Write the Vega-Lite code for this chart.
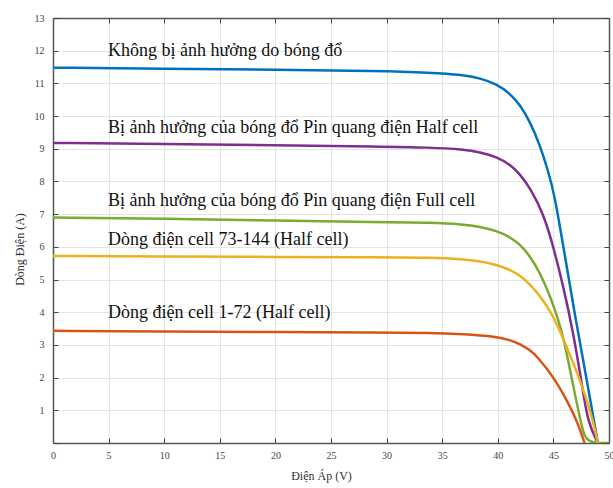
{
  "$schema": "https://vega.github.io/schema/vega-lite/v6.json",
  "width": 556,
  "height": 425,
  "autosize": {"type": "none"},
  "padding": {"left": 53, "top": 18, "right": 4, "bottom": 45},
  "background": "white",
  "config": {"view": {"stroke": null}, "font": "Liberation Serif"},
  "datasets": {
    "curves": [
      {"series": "blue", "V": 0, "I": 11.48}, {"series": "blue", "V": 10, "I": 11.45}, {"series": "blue", "V": 20, "I": 11.42}, {"series": "blue", "V": 29.4, "I": 11.38}, {"series": "blue", "V": 33.9, "I": 11.33}, {"series": "blue", "V": 36.9, "I": 11.26}, {"series": "blue", "V": 38.4, "I": 11.16}, {"series": "blue", "V": 39.9, "I": 10.98}, {"series": "blue", "V": 41.1, "I": 10.69}, {"series": "blue", "V": 42.0, "I": 10.34}, {"series": "blue", "V": 42.9, "I": 9.83}, {"series": "blue", "V": 43.8, "I": 9.1}, {"series": "blue", "V": 44.5, "I": 8.35}, {"series": "blue", "V": 45.1, "I": 7.6}, {"series": "blue", "V": 45.9, "I": 6.0}, {"series": "blue", "V": 46.9, "I": 3.97}, {"series": "blue", "V": 48.0, "I": 1.93}, {"series": "blue", "V": 49.0, "I": 0},
      {"series": "purple", "V": 0, "I": 9.18}, {"series": "purple", "V": 10, "I": 9.15}, {"series": "purple", "V": 20, "I": 9.11}, {"series": "purple", "V": 29.4, "I": 9.07}, {"series": "purple", "V": 33.9, "I": 9.04}, {"series": "purple", "V": 36.9, "I": 8.98}, {"series": "purple", "V": 38.4, "I": 8.9}, {"series": "purple", "V": 39.9, "I": 8.75}, {"series": "purple", "V": 41.1, "I": 8.52}, {"series": "purple", "V": 42.0, "I": 8.22}, {"series": "purple", "V": 42.9, "I": 7.8}, {"series": "purple", "V": 44.1, "I": 7.02}, {"series": "purple", "V": 45.0, "I": 6.0}, {"series": "purple", "V": 45.9, "I": 4.78}, {"series": "purple", "V": 46.8, "I": 3.35}, {"series": "purple", "V": 47.5, "I": 1.93}, {"series": "purple", "V": 48.1, "I": 0.6}, {"series": "purple", "V": 49.0, "I": 0},
      {"series": "green", "V": 0, "I": 6.9}, {"series": "green", "V": 10, "I": 6.86}, {"series": "green", "V": 20, "I": 6.8}, {"series": "green", "V": 29.4, "I": 6.76}, {"series": "green", "V": 33.9, "I": 6.74}, {"series": "green", "V": 36.9, "I": 6.69}, {"series": "green", "V": 38.4, "I": 6.62}, {"series": "green", "V": 39.9, "I": 6.49}, {"series": "green", "V": 41.1, "I": 6.3}, {"series": "green", "V": 42.0, "I": 6.07}, {"series": "green", "V": 42.9, "I": 5.72}, {"series": "green", "V": 43.8, "I": 5.2}, {"series": "green", "V": 44.7, "I": 4.5}, {"series": "green", "V": 45.4, "I": 3.8}, {"series": "green", "V": 45.9, "I": 3.25}, {"series": "green", "V": 46.8, "I": 1.72}, {"series": "green", "V": 47.6, "I": 0.4}, {"series": "green", "V": 48.0, "I": 0}, {"series": "green", "V": 50, "I": 0},
      {"series": "yellow", "V": 0, "I": 5.72}, {"series": "yellow", "V": 10, "I": 5.71}, {"series": "yellow", "V": 20, "I": 5.69}, {"series": "yellow", "V": 29.4, "I": 5.68}, {"series": "yellow", "V": 33.9, "I": 5.67}, {"series": "yellow", "V": 36.9, "I": 5.62}, {"series": "yellow", "V": 38.4, "I": 5.56}, {"series": "yellow", "V": 39.9, "I": 5.45}, {"series": "yellow", "V": 41.1, "I": 5.3}, {"series": "yellow", "V": 42.0, "I": 5.12}, {"series": "yellow", "V": 42.9, "I": 4.85}, {"series": "yellow", "V": 43.8, "I": 4.5}, {"series": "yellow", "V": 44.7, "I": 4.04}, {"series": "yellow", "V": 45.4, "I": 3.58}, {"series": "yellow", "V": 46.2, "I": 2.94}, {"series": "yellow", "V": 47.4, "I": 1.93}, {"series": "yellow", "V": 48.4, "I": 0.91}, {"series": "yellow", "V": 49.0, "I": 0},
      {"series": "red", "V": 0, "I": 3.43}, {"series": "red", "V": 10, "I": 3.41}, {"series": "red", "V": 20, "I": 3.39}, {"series": "red", "V": 29.4, "I": 3.38}, {"series": "red", "V": 33.9, "I": 3.37}, {"series": "red", "V": 36.9, "I": 3.33}, {"series": "red", "V": 39.9, "I": 3.25}, {"series": "red", "V": 41.1, "I": 3.15}, {"series": "red", "V": 42.0, "I": 3.03}, {"series": "red", "V": 42.9, "I": 2.84}, {"series": "red", "V": 43.5, "I": 2.66}, {"series": "red", "V": 45.0, "I": 2.03}, {"series": "red", "V": 46.2, "I": 1.31}, {"series": "red", "V": 47.1, "I": 0.7}, {"series": "red", "V": 47.8, "I": 0}
    ],
    "labels": [
      {"label": "Không bị ảnh hưởng do bóng đổ", "V": 4.95, "I": 12.0},
      {"label": "Bị ảnh hưởng của bóng đổ Pin quang điện Half cell", "V": 4.95, "I": 9.63},
      {"label": "Bị ảnh hưởng của bóng đổ Pin quang điện Full cell", "V": 4.95, "I": 7.4},
      {"label": "Dòng điện cell 73-144 (Half cell)", "V": 4.95, "I": 6.2},
      {"label": "Dòng điện cell 1-72 (Half cell)", "V": 4.95, "I": 3.98}
    ]
  },
  "layer": [
    {
      "data": {"name": "curves"},
      "mark": {"type": "line", "strokeWidth": 2.5, "interpolate": "basis", "clip": true},
      "encoding": {
        "x": {
          "field": "V", "type": "quantitative",
          "scale": {"domain": [0, 50], "nice": false, "zero": false},
          "axis": {
            "orient": "bottom", "values": [0, 5, 10, 15, 20, 25, 30, 35, 40, 45, 50],
            "title": "Điện Áp (V)", "titleFont": "Liberation Serif", "titleFontSize": 12, "titleFontWeight": "normal", "titleColor": "#333333", "titlePadding": 10, "titleX": 268,
            "labelFont": "Liberation Serif", "labelFontSize": 10, "labelColor": "#444444", "labelPadding": 12, "labelFlush": false, "labelOverlap": false,
            "domainColor": "#555555", "domainWidth": 1.5,
            "ticks": true, "tickSize": -5, "tickColor": "#444444", "tickWidth": 1,
            "grid": true, "gridColor": "#e3e3e3", "gridWidth": 1
          }
        },
        "y": {
          "field": "I", "type": "quantitative",
          "scale": {"domain": [0, 13], "nice": false},
          "axis": {
            "orient": "left",
            "values": [0, 0.5, 1, 1.5, 2, 2.5, 3, 3.5, 4, 4.5, 5, 5.5, 6, 6.5, 7, 7.5, 8, 8.5, 9, 9.5, 10, 10.5, 11, 11.5, 12, 12.5, 13],
            "format": "d",
            "labelExpr": "(datum.value % 1 === 0 && datum.value > 0) ? format(datum.value, 'd') : ''",
            "title": "Dòng Điện (A)", "titleFont": "Liberation Serif", "titleFontSize": 12, "titleFontWeight": "normal", "titleColor": "#333333", "titlePadding": 8, "titleY": 231,
            "labelFont": "Liberation Serif", "labelFontSize": 10, "labelColor": "#444444", "labelPadding": 14, "labelFlush": false, "labelOverlap": false,
            "domainColor": "#555555", "domainWidth": 1.5,
            "ticks": true, "tickSize": -5, "tickColor": "#444444", "tickWidth": 1,
            "tickOpacity": {"condition": {"test": "datum.value % 1 !== 0", "value": 0}, "value": 1},
            "grid": true,
            "gridColor": {"condition": {"test": "datum.value % 1 !== 0", "value": "#c8c8c8"}, "value": "#e3e3e3"},
            "gridDash": {"condition": {"test": "datum.value % 1 !== 0", "value": [1, 3]}, "value": []},
            "gridWidth": 1
          }
        },
        "color": {
          "field": "series", "type": "nominal",
          "scale": {"domain": ["blue", "purple", "green", "yellow", "red"], "range": ["#0072BD", "#7E2F8E", "#77AC30", "#EDB120", "#D95319"]},
          "legend": null
        }
      }
    },
    {
      "data": {"name": "labels"},
      "mark": {"type": "text", "align": "left", "baseline": "middle", "fontSize": 18, "font": "Liberation Serif", "color": "#111111"},
      "encoding": {
        "x": {
          "field": "V", "type": "quantitative",
          "axis": {"orient": "top", "values": [0, 5, 10, 15, 20, 25, 30, 35, 40, 45, 50], "labels": false, "title": null, "grid": false, "domainColor": "#555555", "domainWidth": 1.5, "tickSize": -5, "tickColor": "#444444"}
        },
        "y": {
          "field": "I", "type": "quantitative",
          "axis": {"orient": "right", "values": [0, 1, 2, 3, 4, 5, 6, 7, 8, 9, 10, 11, 12, 13], "labels": false, "title": null, "grid": false, "domainColor": "#555555", "domainWidth": 1.5, "tickSize": -5, "tickColor": "#444444"}
        },
        "text": {"field": "label", "type": "nominal"}
      }
    }
  ],
  "resolve": {"axis": {"x": "independent", "y": "independent"}}
}
